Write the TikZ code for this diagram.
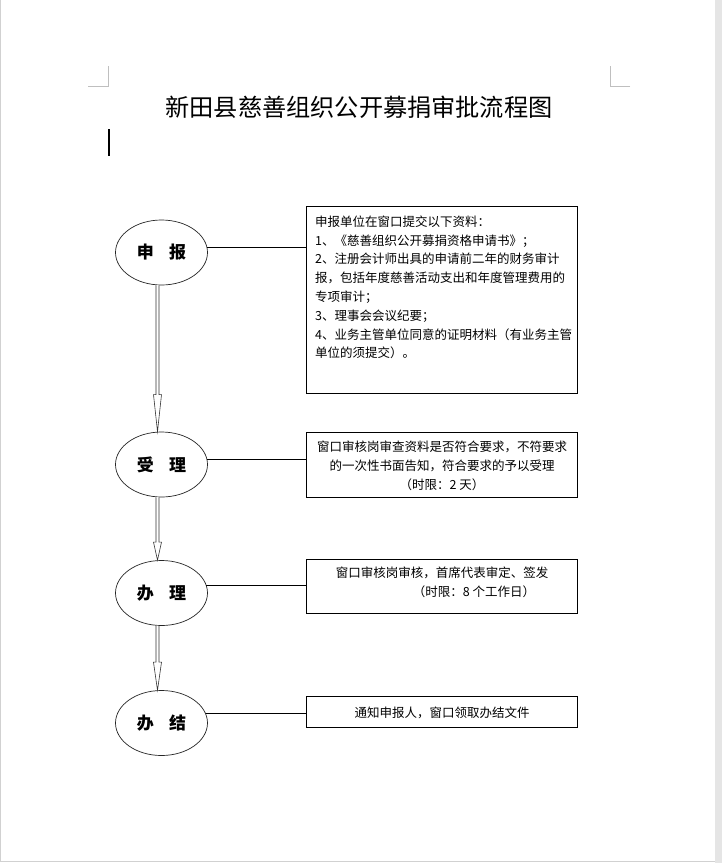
\documentclass[tikz,border=0pt]{standalone}
\usepackage{fontspec}
\setmainfont{Noto Sans CJK SC}
\usetikzlibrary{calc,shapes.geometric}
\newcommand\hollowarrow[3]{%
  \draw[arrowline] ($(#1.south)+(-5.5,0)$) -- ($(#2.north)+(-5.5,-#3)$) -- ($(#2.north)+(-8,-#3)$)
    -- ($(#2.north)+(-4,0)$) -- ($(#2.north)+(0,-#3)$) -- ($(#2.north)+(-2.5,-#3)$) -- ($(#1.south)+(-2.5,0)$);}
\begin{document}
\begin{tikzpicture}[x=1pt,y=-1pt,
  stage/.style={ellipse,draw=black!85,line width=0.7pt,minimum width=92pt,minimum height=65pt,inner sep=0pt,
    font=\fontsize{17}{17}\selectfont\bfseries},
  infobox/.style={rectangle,draw=black,line width=0.8pt,inner sep=0pt},
  infotext/.style={inner sep=0pt,font=\fontsize{12.5}{18.8}\selectfont},
  link/.style={draw=black,line width=0.7pt},
  arrowline/.style={draw=black!80,line width=0.6pt,fill=white,line join=miter},
  pagemark/.style={draw=black!25,line width=0.8pt}]
\useasboundingbox (0,0) rectangle (722,863);
\fill[white] (0,0) rectangle (722,863);
\fill[black!10] (715,0) rectangle (722,863);
\draw[black!18,line width=1pt] (0.5,0) -- (0.5,861) -- (715,861);
% page corner marks
\coordinate (ml1) at (88,86); \coordinate (ml2) at (108,86); \coordinate (ml3) at (108,66);
\draw[pagemark] (ml1) -- (ml2) -- (ml3);
\coordinate (mr1) at (630,86); \coordinate (mr2) at (610,86); \coordinate (mr3) at (610,66);
\draw[pagemark] (mr1) -- (mr2) -- (mr3);
% cursor
\coordinate (c1) at (109,129); \coordinate (c2) at (109,156);
\draw[black,line width=2pt] (c1) -- (c2);
% title
\node[inner sep=0pt,font=\fontsize{24.2}{24.2}\selectfont] (title) at (359,107) {新田县慈善组织公开募捐审批流程图};
% stages
\node[stage] (e1) at (161.5,252.5) {申\hspace{0.9em}报};
\node[stage] (e2) at (161.5,464.5) {受\hspace{0.9em}理};
\node[stage] (e3) at (161.5,593) {办\hspace{0.9em}理};
\node[stage] (e4) at (161.5,723) {办\hspace{0.9em}结};
% boxes
\node[infobox,minimum width=271pt,minimum height=187pt] (b1) at (442,299.5) {};
\node[infotext,anchor=north west,align=left] (t1) at (315,215.5) {申报单位在窗口提交以下资料：\\
1、《慈善组织公开募捐资格申请书》；\\
2、注册会计师出具的申请前二年的财务审计\\
报，包括年度慈善活动支出和年度管理费用的\\
专项审计；\\
3、理事会会议纪要；\\
4、业务主管单位同意的证明材料（有业务主管\\
单位的须提交）。};
\node[infobox,minimum width=271pt,minimum height=65pt] (b2) at (442,464.5) {};
\node[infotext,align=center] (t2) at (442,465.5) {窗口审核岗审查资料是否符合要求，不符要求\\的一次性书面告知，符合要求的予以受理\\（时限：2 天）};
\node[infobox,minimum width=271pt,minimum height=54pt] (b3) at (442,586) {};
\node[infotext] (t3a) at (442,573) {窗口审核岗审核，首席代表审定、签发};
\node[infotext] (t3b) at (474,592) {（时限：8 个工作日）};
\node[infobox,minimum width=271pt,minimum height=31pt] (b4) at (442,711.5) {};
\node[infotext] (t4) at (442,713) {通知申报人，窗口领取办结文件};
% connectors
\draw[link] (e1.6) -- (e1.6 -| b1.west);
\draw[link] (e2.7) -- (e2.7 -| b2.west);
\draw[link] (e3.10) -- (e3.10 -| b3.west);
\draw[link] (e4.12) -- (e4.12 -| b4.west);
% arrows
\hollowarrow{e1}{e2}{37}
\hollowarrow{e2}{e3}{18}
\hollowarrow{e3}{e4}{28}
\end{tikzpicture}
\end{document}
